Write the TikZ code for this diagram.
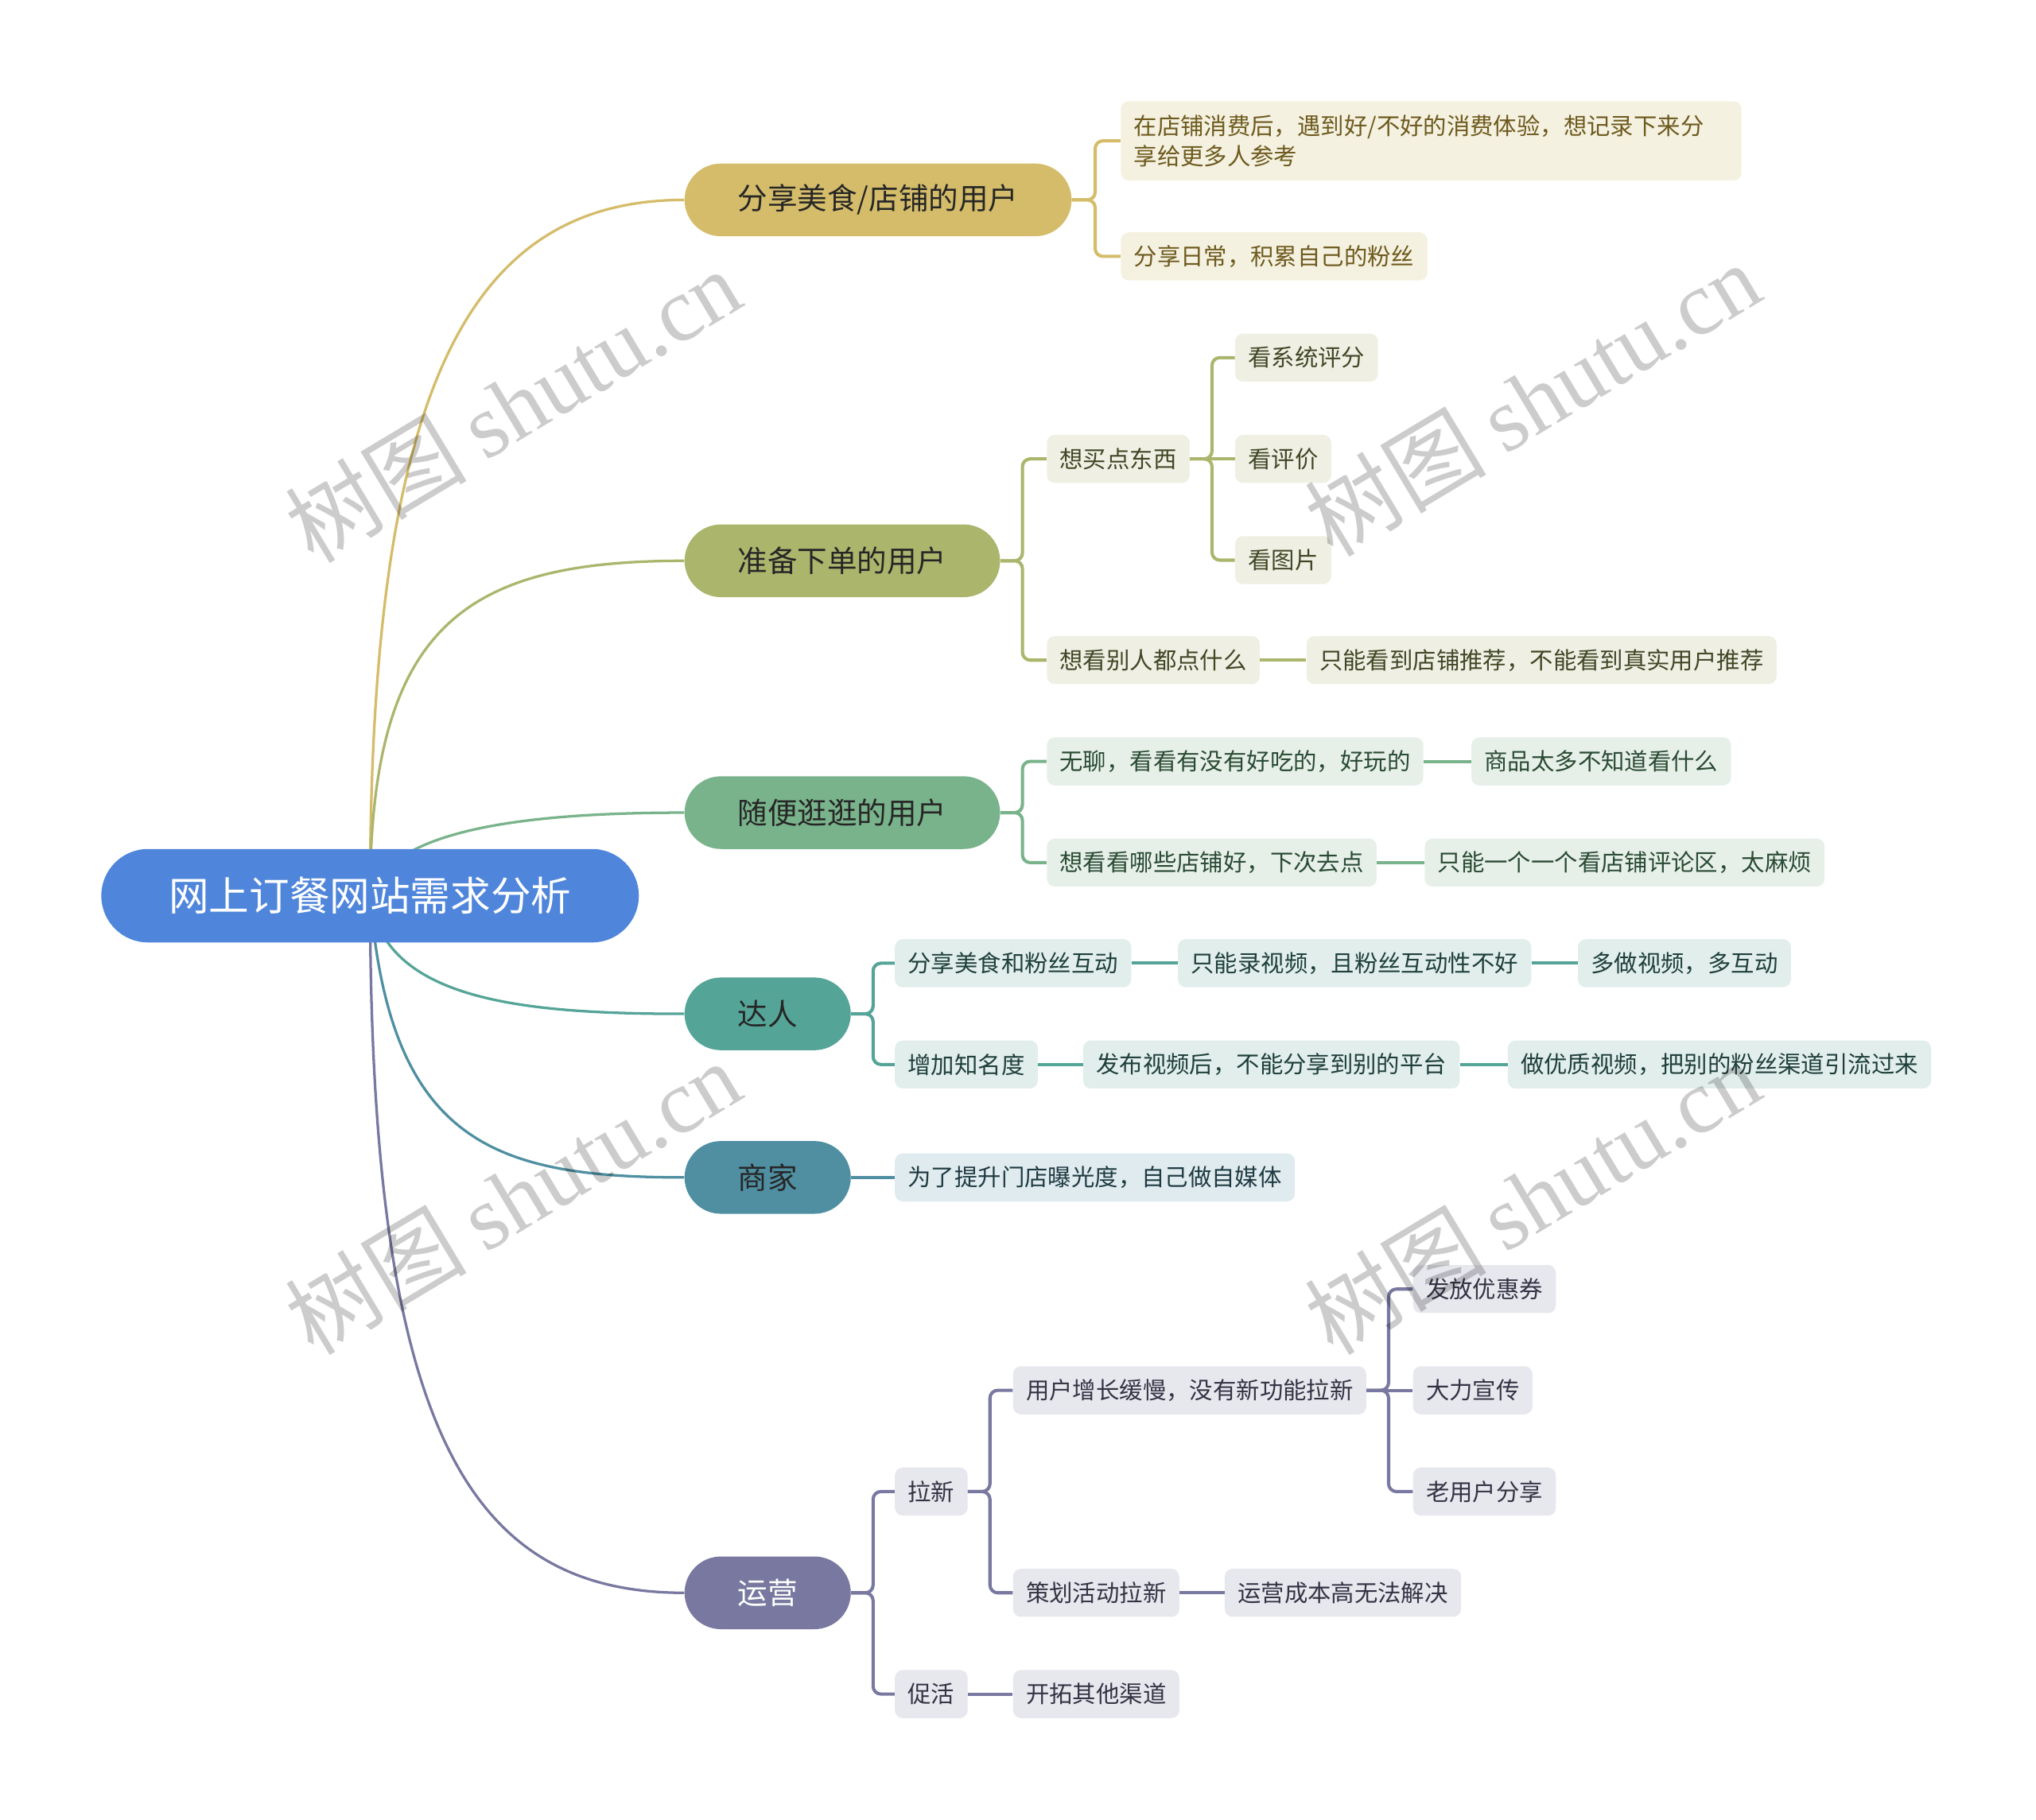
\documentclass[tikz,border=0pt]{standalone}
\usepackage{fontspec}
\newfontfamily\cjk{Noto Sans CJK SC}
\newfontfamily\wmserif{Liberation Serif}
\usetikzlibrary{backgrounds}
\definecolor{rootc}{HTML}{4F86DB}
\definecolor{cA}{HTML}{D4BC6A}\definecolor{fA}{HTML}{F4F1E0}\definecolor{tA}{HTML}{6E5A1E}
\definecolor{cB}{HTML}{ABB56C}\definecolor{fB}{HTML}{EFF0E3}\definecolor{tB}{HTML}{414626}
\definecolor{cC}{HTML}{79B38B}\definecolor{fC}{HTML}{E6F0E9}\definecolor{tC}{HTML}{2A4A33}
\definecolor{cD}{HTML}{55A498}\definecolor{fD}{HTML}{E1EEEC}\definecolor{tD}{HTML}{1F3F3B}
\definecolor{cE}{HTML}{4F8FA1}\definecolor{fE}{HTML}{DFEBEE}\definecolor{tE}{HTML}{1F3A42}
\definecolor{cF}{HTML}{7878A0}\definecolor{fF}{HTML}{E7E7EE}\definecolor{tF}{HTML}{333344}
\begin{document}
\begin{tikzpicture}[x=1pt,y=-1pt,
  rootbox/.style={fill=rootc, text=white, rounded corners=36pt, inner xsep=52pt, inner ysep=0pt,
    minimum height=72pt, font=\cjk\fontsize{31pt}{36pt}\selectfont},
  mainbox/.style={rounded corners=28pt, inner xsep=41pt, inner ysep=0pt, minimum height=56pt,
    anchor=west, text=black!85, font=\cjk\fontsize{23pt}{28pt}\selectfont},
  subbox/.style={rounded corners=6pt, inner xsep=10pt, inner ysep=0pt, minimum height=37pt,
    anchor=west, font=\cjk\fontsize{18pt}{23pt}\selectfont},
  sA/.style={subbox, fill=fA, text=tA}, sB/.style={subbox, fill=fB, text=tB},
  sC/.style={subbox, fill=fC, text=tC}, sD/.style={subbox, fill=fD, text=tD},
  sE/.style={subbox, fill=fE, text=tE}, sF/.style={subbox, fill=fF, text=tF},
  curveline/.style={line width=2pt},
  conn/.style={line width=2.5pt, rounded corners=6pt},
  wm/.style={text=black, text opacity=0.2, rotate=31, inner sep=0pt}
]
\useasboundingbox (0,0) rectangle (1568,1402);

% root
\node[rootbox] (root) at (285,690) {网上订餐网站需求分析};

% main branches
\node[mainbox, fill=cA] (a) at (527,154) {分享美食/店铺的用户};
\node[mainbox, fill=cB] (b) at (527,432) {准备下单的用户};
\node[mainbox, fill=cC] (c) at (527,626) {随便逛逛的用户};
\node[mainbox, fill=cD] (d) at (527,781) {达人};
\node[mainbox, fill=cE] (e) at (527,907) {商家};
\node[mainbox, fill=cF, text=white] (f) at (527,1227) {运营};

% branch A
\node[sA, text width=458pt, align=left, minimum height=61pt] (a1) at (863,108.5)
  {在店铺消费后，遇到好/不好的消费体验，想记录下来分\\享给更多人参考};
\node[sA] (a2) at (863,197.5) {分享日常，积累自己的粉丝};

% branch B
\node[sB] (b1) at (806,353.5) {想买点东西};
\node[sB] (b1a) at (951,275.5) {看系统评分};
\node[sB] (b1b) at (951,353.5) {看评价};
\node[sB] (b1c) at (951,431.5) {看图片};
\node[sB] (b2) at (806,508.5) {想看别人都点什么};
\node[sB] (b2a) at (1006,508.5) {只能看到店铺推荐，不能看到真实用户推荐};

% branch C
\node[sC] (c1) at (806,586.5) {无聊，看看有没有好吃的，好玩的};
\node[sC] (c1a) at (1133,586.5) {商品太多不知道看什么};
\node[sC] (c2) at (806,664.5) {想看看哪些店铺好，下次去点};
\node[sC] (c2a) at (1097,664.5) {只能一个一个看店铺评论区，太麻烦};

% branch D
\node[sD] (d1) at (689,742) {分享美食和粉丝互动};
\node[sD] (d1a) at (907,742) {只能录视频，且粉丝互动性不好};
\node[sD] (d1b) at (1215,742) {多做视频，多互动};
\node[sD] (d2) at (689,820) {增加知名度};
\node[sD] (d2a) at (834,820) {发布视频后，不能分享到别的平台};
\node[sD] (d2b) at (1161,820) {做优质视频，把别的粉丝渠道引流过来};

% branch E
\node[sE] (e1) at (689,907) {为了提升门店曝光度，自己做自媒体};

% branch F
\node[sF] (f1) at (689,1149) {拉新};
\node[sF] (f1a) at (780,1071) {用户增长缓慢，没有新功能拉新};
\node[sF] (f1a1) at (1088,993) {发放优惠券};
\node[sF] (f1a2) at (1088,1071) {大力宣传};
\node[sF] (f1a3) at (1088,1149) {老用户分享};
\node[sF] (f1b) at (780,1227) {策划活动拉新};
\node[sF] (f1b1) at (943,1227) {运营成本高无法解决};
\node[sF] (f2) at (689,1305) {促活};
\node[sF] (f2a) at (780,1305) {开拓其他渠道};

\begin{scope}[on background layer]
\draw[curveline, cA] (root.center) .. controls (285,300) and (360,154) .. (a.west);
\draw[curveline, cB] (root.center) .. controls (285,480) and (360,432) .. (b.west);
\draw[curveline, cC] (root.center) .. controls (300,640) and (400,626) .. (c.west);
\draw[curveline, cD] (root.center) .. controls (295,770) and (400,781) .. (d.west);
\draw[curveline, cE] (root.center) .. controls (300,880) and (380,907) .. (e.west);
\draw[curveline, cF] (root.center) .. controls (285,1100) and (360,1227) .. (f.west);
\end{scope}

% connectors A
\draw[conn, cA] (a.east) -- ++(18,0) |- (a1.west);
\draw[conn, cA] (a.east) -- ++(18,0) |- (a2.west);
% B
\draw[conn, cB] (b.east) -- ++(17,0) |- (b1.west);
\draw[conn, cB] (b.east) -- ++(17,0) |- (b2.west);
\draw[conn, cB] (b1.east) -- ++(17,0) |- (b1a.west);
\draw[conn, cB] (b1.east) -- (b1b.west);
\draw[conn, cB] (b1.east) -- ++(17,0) |- (b1c.west);
\draw[conn, cB] (b2.east) -- (b2a.west);
% C
\draw[conn, cC] (c.east) -- ++(17,0) |- (c1.west);
\draw[conn, cC] (c.east) -- ++(17,0) |- (c2.west);
\draw[conn, cC] (c1.east) -- (c1a.west);
\draw[conn, cC] (c2.east) -- (c2a.west);
% D
\draw[conn, cD] (d.east) -- ++(17,0) |- (d1.west);
\draw[conn, cD] (d.east) -- ++(17,0) |- (d2.west);
\draw[conn, cD] (d1.east) -- (d1a.west);
\draw[conn, cD] (d1a.east) -- (d1b.west);
\draw[conn, cD] (d2.east) -- (d2a.west);
\draw[conn, cD] (d2a.east) -- (d2b.west);
% E
\draw[conn, cE] (e.east) -- (e1.west);
% F
\draw[conn, cF] (f.east) -- ++(17,0) |- (f1.west);
\draw[conn, cF] (f.east) -- ++(17,0) |- (f2.west);
\draw[conn, cF] (f1.east) -- ++(17,0) |- (f1a.west);
\draw[conn, cF] (f1.east) -- ++(17,0) |- (f1b.west);
\draw[conn, cF] (f1a.east) -- ++(17,0) |- (f1a1.west);
\draw[conn, cF] (f1a.east) -- (f1a2.west);
\draw[conn, cF] (f1a.east) -- ++(17,0) |- (f1a3.west);
\draw[conn, cF] (f1b.east) -- (f1b1.west);
\draw[conn, cF] (f2.east) -- (f2a.west);

% watermarks
\node[wm] (w1) at (395,312) {\cjk\fontsize{70pt}{70pt}\selectfont 树图\hspace{14pt}\wmserif shutu.cn};
\node[wm] (w2) at (1180,307) {\cjk\fontsize{70pt}{70pt}\selectfont 树图\hspace{14pt}\wmserif shutu.cn};
\node[wm] (w3) at (395,922) {\cjk\fontsize{70pt}{70pt}\selectfont 树图\hspace{14pt}\wmserif shutu.cn};
\node[wm] (w4) at (1180,922) {\cjk\fontsize{70pt}{70pt}\selectfont 树图\hspace{14pt}\wmserif shutu.cn};
\end{tikzpicture}
\end{document}
